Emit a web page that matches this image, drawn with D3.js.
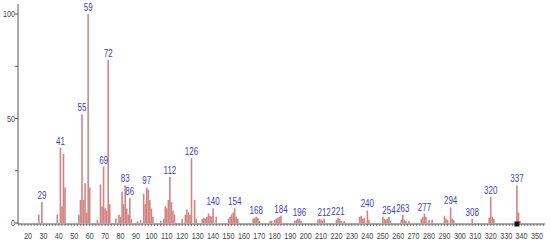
<!DOCTYPE html>
<html>
<head>
<meta charset="utf-8">
<script src="https://cdn.jsdelivr.net/npm/d3@7"></script>
<style>
  html, body { margin: 0; padding: 0; background: #fff; }
  svg { display: block; }
</style>
</head>
<body>
<div id="chart"></div>
<script>
// m/z values and relative intensities (%)
const mz = [27, 29, 39, 41, 42, 43, 44, 53, 54, 55, 56, 57, 58, 59, 60,
  65, 67, 68, 69, 70, 71, 72, 73, 77, 79, 80, 81, 82, 83, 84, 85, 86, 87,
  91, 93, 95, 96, 97, 98, 99, 100, 101, 106, 108, 109, 110, 111, 112, 113, 114, 115,
  120, 122, 123, 124, 125, 126, 128, 129, 133, 134, 135, 136, 137, 138, 139, 140, 142,
  150, 151, 152, 153, 154, 155, 156, 166, 167, 168, 169, 170, 177, 178,
  180, 181, 182, 183, 184, 193, 194, 195, 196, 197, 208, 209, 210, 211, 212,
  220, 221, 222, 223, 225, 235, 236, 237, 238, 240, 241, 250, 251, 252, 253, 254, 255,
  262, 263, 264, 265, 267, 275, 276, 277, 278, 280, 282, 290, 291, 292, 294, 295, 296,
  308, 319, 320, 321, 322, 337, 338, 339];
const intensity = [4, 10, 4, 36, 8, 33, 17, 4, 11, 52, 11, 19, 5, 100, 17,
  1.5, 18.5, 8, 27, 7, 6, 78, 9, 2, 4, 3, 15, 9, 18, 7, 4, 12, 2,
  0.8, 1.5, 14, 9, 17, 16, 11, 7, 3, 1, 2, 8, 7, 11, 22, 10, 6, 4,
  2, 4, 6.5, 5, 4, 31, 11, 2, 2, 2.5, 2, 3, 4.5, 3.5, 3, 7, 3,
  2, 3, 4, 5, 7, 3, 2, 2, 2.5, 3, 2.5, 1, 1, 1,
  1.5, 2, 2.5, 3, 3.5, 1, 1.5, 2, 2, 1, 1.5, 2, 1.5, 1, 2,
  1.5, 2.5, 2, 1, 1, 3, 3.5, 2, 2.5, 6, 1.5, 3, 2, 1.5, 2, 3, 1,
  1.5, 4, 1.5, 1, 1, 2, 3, 4.5, 3, 1.5, 1.5, 3.5, 2, 1.5, 7.5, 2, 1.5,
  2, 2.5, 12.5, 3, 2, 18, 5, 1];
// labelled peaks
const labelled = [29, 41, 55, 59, 69, 72, 83, 86, 97, 112, 126, 140, 154, 168,
  184, 196, 212, 221, 240, 254, 263, 277, 294, 308, 320, 337];
const xTicks = d3.range(20, 351, 10);
const yTicks = [0, 50, 100];
const marker = 337;

const width = 550, height = 244;
const font = '"Liberation Sans", Arial, sans-serif';
const squeeze = 0.8; // texte étroit comme dans l'original

const svg = d3.select('#chart').append('svg')
  .attr('width', width).attr('height', height);

const x = d3.scaleLinear().domain([20, 350]).range([28, 537]);
const y = d3.scaleLinear().domain([0, 100]).range([223, 14]);

const peaks = mz.map((m, i) => ({ mz: m, v: intensity[i] }));

// Bars
svg.append('g').selectAll('line')
  .data(peaks)
  .enter().append('line')
  .attr('x1', d => x(d.mz)).attr('x2', d => x(d.mz))
  .attr('y1', y(0)).attr('y2', d => y(d.v))
  .attr('stroke', '#d38484')
  .attr('stroke-width', 1.6);

// Peak labels
svg.append('g').selectAll('text')
  .data(peaks.filter(d => labelled.includes(d.mz)))
  .enter().append('text')
  .attr('transform', d => `translate(${x(d.mz)},${y(d.v) - 3}) scale(${squeeze},1)`)
  .attr('text-anchor', 'middle')
  .attr('font-family', font)
  .attr('font-size', 10)
  .attr('fill', '#3b3fc4')
  .text(d => d.mz);

// X axis
const xAxisG = svg.append('g').attr('transform', `translate(0,${y(0) + 1})`);
xAxisG.append('line')
  .attr('x1', 18).attr('x2', 545)
  .attr('stroke', '#555').attr('stroke-width', 1);
xAxisG.selectAll('.minor')
  .data(d3.range(14, 355, 2))
  .enter().append('line')
  .attr('x1', d => x(d)).attr('x2', d => x(d))
  .attr('y1', 0).attr('y2', 2)
  .attr('stroke', '#555').attr('stroke-width', 0.8);
xAxisG.selectAll('.lab')
  .data(xTicks)
  .enter().append('text')
  .attr('transform', d => `translate(${x(d)},15) scale(${squeeze},1)`)
  .attr('text-anchor', 'middle')
  .attr('font-family', font)
  .attr('font-size', 9)
  .attr('fill', '#444')
  .text(d => d);

// Y axis
const yAxisG = svg.append('g').attr('transform', 'translate(18,0)');
yAxisG.append('line')
  .attr('y1', 4).attr('y2', y(0) + 1)
  .attr('stroke', '#555').attr('stroke-width', 1);
yAxisG.selectAll('.tk')
  .data([0, 25, 50, 75, 100])
  .enter().append('line')
  .attr('x1', -3).attr('x2', 0)
  .attr('y1', d => y(d)).attr('y2', d => y(d))
  .attr('stroke', '#555');
yAxisG.selectAll('.lab')
  .data(yTicks)
  .enter().append('text')
  .attr('transform', d => `translate(-3,${y(d) + 3}) scale(${squeeze},1)`)
  .attr('text-anchor', 'end')
  .attr('font-family', font)
  .attr('font-size', 9)
  .attr('fill', '#444')
  .text(d => d);

// Precursor marker
svg.append('rect')
  .attr('x', x(marker) - 2.5).attr('y', y(0) - 1.5)
  .attr('width', 5).attr('height', 5)
  .attr('fill', '#111');
</script>
</body>
</html>
